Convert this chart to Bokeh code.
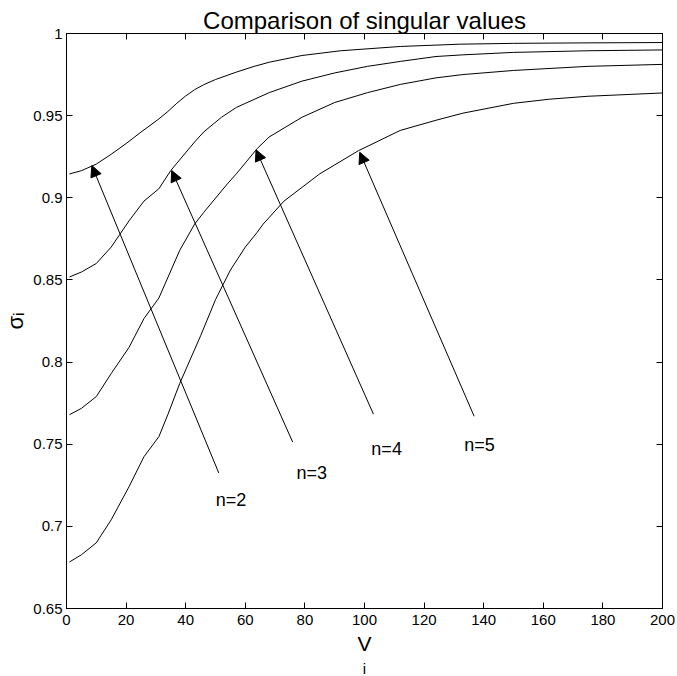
from bokeh.plotting import figure
from bokeh.models import (Range1d, FixedTicker, LinearAxis, Title, Arrow,
                          NormalHead, ColumnDataSource)
from bokeh.core.properties import value
from bokeh.embed import file_html
from bokeh.resources import INLINE

FONT = "Liberation Sans"

# singular value curves sigma_i versus V_i for n = 2..5
x_n2 = [1, 5, 10, 15, 20, 25, 31, 34, 37, 40, 43, 46, 50, 57, 63, 68, 79, 92, 112,
        132, 150, 175, 200]
y_n2 = [0.9145, 0.9165, 0.9205, 0.9265, 0.933, 0.940, 0.948, 0.9525, 0.9575, 0.962,
        0.9658, 0.9688, 0.972, 0.9765, 0.980, 0.9825, 0.9866, 0.9895, 0.9921,
        0.9935, 0.9940, 0.9943, 0.9945]

x_n3 = [1, 5, 10, 15, 21, 26, 31, 35, 43, 46, 52, 57, 68, 79, 90, 101, 112, 124,
        133, 150, 175, 200]
y_n3 = [0.8518, 0.8548, 0.860, 0.870, 0.886, 0.898, 0.9055, 0.9166, 0.934, 0.940,
        0.949, 0.955, 0.964, 0.971, 0.976, 0.980, 0.983, 0.986, 0.987, 0.9885,
        0.9895, 0.990]

x_n4 = [1, 5, 10, 15, 21, 26, 31, 38, 43, 46, 54, 57, 64, 68, 79, 90, 101, 112,
        124, 133, 150, 175, 200]
y_n4 = [0.768, 0.7718, 0.779, 0.793, 0.809, 0.8265, 0.839, 0.868, 0.884, 0.891,
        0.9085, 0.9146, 0.930, 0.937, 0.949, 0.958, 0.964, 0.969, 0.973, 0.975,
        0.9775, 0.980, 0.9812]

x_n5 = [1, 5, 10, 15, 21, 26, 31, 34, 38, 45, 50, 55, 60, 64, 66, 73, 85, 98, 112,
        124, 133, 150, 162, 175, 200]
y_n5 = [0.6783, 0.6827, 0.690, 0.704, 0.7242, 0.7424, 0.7546, 0.768, 0.787, 0.816,
        0.838, 0.856, 0.870, 0.879, 0.884, 0.898, 0.9146, 0.9287, 0.941, 0.9472,
        0.9515, 0.9575, 0.960, 0.9618, 0.9638]

# annotation labels and the curve points their arrows mark
curve_labels = ["n=2", "n=3", "n=4", "n=5"]
label_x = [50.1, 77.2, 102.3, 133.5]
label_y = [0.7161, 0.7325, 0.747, 0.7495]
arrow_from_x = [51.1, 75.9, 103.0, 136.8]
arrow_from_y = [0.7325, 0.7513, 0.7683, 0.767]
arrow_to_x = [8.5, 35.3, 63.6, 98.4]
arrow_to_y = [0.9196, 0.9166, 0.9292, 0.9277]

x_ticks = [0, 20, 40, 60, 80, 100, 120, 140, 160, 180, 200]
x_tick_labels = ["0", "20", "40", "60", "80", "100", "120", "140", "160", "180", "200"]
y_ticks = [0.65, 0.7, 0.75, 0.8, 0.85, 0.9, 0.95, 1.0]
y_tick_labels = ["0.65", "0.7", "0.75", "0.8", "0.85", "0.9", "0.95", "1"]

p = figure(width=677, height=676, output_backend="svg", toolbar_location=None,
           x_range=Range1d(0, 200), y_range=Range1d(0.65, 1.0),
           min_border_left=65, min_border_right=15,
           min_border_top=33, min_border_bottom=67)
p.background_fill_color = "white"
p.border_fill_color = "white"
p.outline_line_color = "black"
p.outline_line_width = 1
p.grid.visible = False

p.title.text = "Comparison of singular values"
p.title.text_font = FONT
p.title.text_font_size = "24px"
p.title.text_font_style = "normal"
p.title.text_color = "black"
p.title.align = "center"
p.title.offset = -6
p.title.standoff = 0

# main axes: inward ticks, no minor ticks
xa = p.xaxis[0]
xa.ticker = FixedTicker(ticks=x_ticks)
xa.major_label_overrides = dict(zip(x_ticks, x_tick_labels))
ya = p.yaxis[0]
ya.ticker = FixedTicker(ticks=y_ticks)
ya.major_label_overrides = dict(zip(y_ticks, y_tick_labels))
for ax in (xa, ya):
    ax.major_tick_in = 6
    ax.major_tick_out = 0
    ax.minor_tick_line_color = None
    ax.axis_line_color = "black"
    ax.major_tick_line_color = "black"
    ax.major_label_text_font = FONT
    ax.major_label_text_font_size = "15px"
    ax.major_label_text_color = "black"
    ax.axis_label_text_font = FONT
    ax.axis_label_text_font_style = "normal"
    ax.axis_label_text_color = "black"
xa.major_label_standoff = 6
ya.major_label_standoff = 4

xa.axis_label = "V"
xa.axis_label_text_font_size = "21px"
xa.axis_label_standoff = 4
ya.axis_label = "σᵢ"
ya.axis_label_text_font_size = "22px"
ya.axis_label_standoff = 2

# subscript of the x label, set just under the "V"
p.add_layout(Title(text="i", text_font=FONT, text_font_size="15px",
                   text_font_style="normal", text_color="black",
                   align="center", offset=5, standoff=0), "below")

# mirrored ticks on top and right edges of the box
top = LinearAxis(ticker=FixedTicker(ticks=x_ticks), major_label_text_color=None,
                 major_tick_in=6, major_tick_out=0, minor_tick_line_color=None,
                 axis_line_color="black", major_label_text_font_size="0px",
                 major_label_standoff=0)
right = LinearAxis(ticker=FixedTicker(ticks=y_ticks), major_label_text_color=None,
                   major_tick_in=6, major_tick_out=0, minor_tick_line_color=None,
                   axis_line_color="black", major_label_text_font_size="0px",
                   major_label_standoff=0)
p.add_layout(top, "above")
p.add_layout(right, "right")

for xs, ys in ((x_n2, y_n2), (x_n3, y_n3), (x_n4, y_n4), (x_n5, y_n5)):
    p.line(xs, ys, line_color="black", line_width=1)

arrows = ColumnDataSource(dict(x0=arrow_from_x, y0=arrow_from_y,
                               x1=arrow_to_x, y1=arrow_to_y))
p.add_layout(Arrow(x_start="x0", y_start="y0", x_end="x1", y_end="y1",
                   source=arrows, line_color="black", line_width=1,
                   end=NormalHead(size=11, fill_color="black", line_color="black",
                                  line_width=1)))

p.text(x=label_x, y=label_y, text=curve_labels, text_font=value(FONT),
       text_font_size="18px", text_color="black", text_align="left",
       text_baseline="alphabetic")

open("out.html", "w").write(file_html(p, INLINE))
